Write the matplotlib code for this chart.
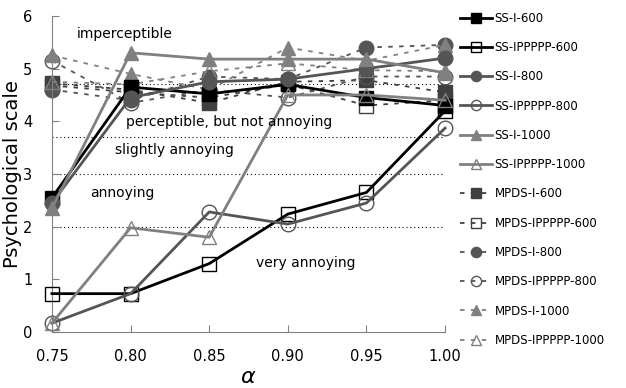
import matplotlib
matplotlib.use("Agg")
import matplotlib.pyplot as plt

alpha = [0.75, 0.80, 0.85, 0.90, 0.95, 1.00]

labels = ["SS-I-600", "SS-IPPPPP-600", "SS-I-800", "SS-IPPPPP-800",
          "SS-I-1000", "SS-IPPPPP-1000", "MPDS-I-600", "MPDS-IPPPPP-600",
          "MPDS-I-800", "MPDS-IPPPPP-800", "MPDS-I-1000", "MPDS-IPPPPP-1000"]

ss_i_600 = [2.55, 4.65, 4.52, 4.70, 4.45, 4.30]
ss_p_600 = [0.73, 0.73, 1.30, 2.24, 2.65, 4.20]
ss_i_800 = [2.45, 4.45, 4.75, 4.80, 5.00, 5.20]
ss_p_800 = [0.17, 0.73, 2.28, 2.05, 2.45, 3.87]
ss_i_1000 = [2.35, 5.30, 5.18, 5.18, 5.18, 4.92]
ss_p_1000 = [0.17, 1.98, 1.80, 4.50, 4.50, 4.40]
mp_i_600 = [4.72, 4.60, 4.35, 4.75, 4.78, 4.55]
mp_p_600 = [4.68, 4.55, 4.45, 4.70, 4.30, 4.40]
mp_i_800 = [4.60, 4.40, 4.85, 4.80, 5.40, 5.45]
mp_p_800 = [5.15, 4.35, 4.60, 4.45, 4.85, 4.85]
mp_i_1000 = [5.25, 4.90, 4.60, 5.40, 5.15, 5.45]
mp_p_1000 = [4.75, 4.70, 4.95, 5.10, 4.97, 4.95]

series = [ss_i_600, ss_p_600, ss_i_800, ss_p_800, ss_i_1000, ss_p_1000,
          mp_i_600, mp_p_600, mp_i_800, mp_p_800, mp_i_1000, mp_p_1000]

thresholds = [4.7, 3.7, 3.0, 2.0]
regions = ["imperceptible", "perceptible, but not annoying",
           "slightly annoying", "annoying", "very annoying"]
region_pos = [(0.766, 5.65), (0.797, 3.98), (0.790, 3.45),
              (0.774, 2.64), (0.880, 1.31)]

colors = ["#000000", "#000000", "#555555", "#555555", "#808080", "#808080",
          "#404040", "#404040", "#555555", "#555555", "#808080", "#808080"]
markers = ["s", "s", "o", "o", "^", "^"] * 2
filled = [True, False] * 6

fig = plt.figure(figsize=(6.26, 3.88), dpi=100)
ax = fig.add_axes([0.083, 0.144, 0.628, 0.815])

for y in thresholds:
    ax.plot([0.75, 1.00], [y, y], color="black", lw=0.8, ls=(0, (1, 2.5)), zorder=1)

for i, (lab, vals) in enumerate(zip(labels, series)):
    c = colors[i]
    mpds = i >= 6
    ax.plot(alpha, vals, label=lab, color=c,
            lw=1.3 if mpds else 2.0,
            ls=(0, (2.5, 3.5)) if mpds else "-",
            marker=markers[i], markersize=10.5,
            markerfacecolor=c if filled[i] else "none",
            markeredgecolor=c, markeredgewidth=1.0,
            clip_on=False, zorder=2 if mpds else 3)

for txt, (x, y) in zip(regions, region_pos):
    ax.text(x, y, txt, fontsize=10, ha="left", va="center")

ax.set_xlim(0.75, 1.00)
ax.set_ylim(0, 6)
ax.set_xticks(alpha)
ax.set_xticklabels(["%.2f" % a for a in alpha])
ax.set_yticks(range(7))
ax.tick_params(direction="in", labelsize=10.5, length=5, color="#808080")
ax.tick_params(axis="x", pad=12)
ax.tick_params(axis="y", pad=14)
ax.spines["top"].set_visible(False)
ax.spines["right"].set_visible(False)
ax.spines["left"].set_color("#808080")
ax.spines["bottom"].set_color("#808080")
ax.set_ylabel("Psychological scale", fontsize=14)
ax.yaxis.set_label_coords(-0.076, 0.5)
ax.set_xlabel(r"$\alpha$", fontsize=16, labelpad=2)

ax.legend(loc="upper left", bbox_to_anchor=(0.728, 0.982), bbox_transform=fig.transFigure,
          frameon=False, fontsize=8.5, handlelength=2.7, handletextpad=0.2,
          labelspacing=1.38, markerscale=0.7, borderaxespad=0)

fig.savefig("out.png", dpi=100)
